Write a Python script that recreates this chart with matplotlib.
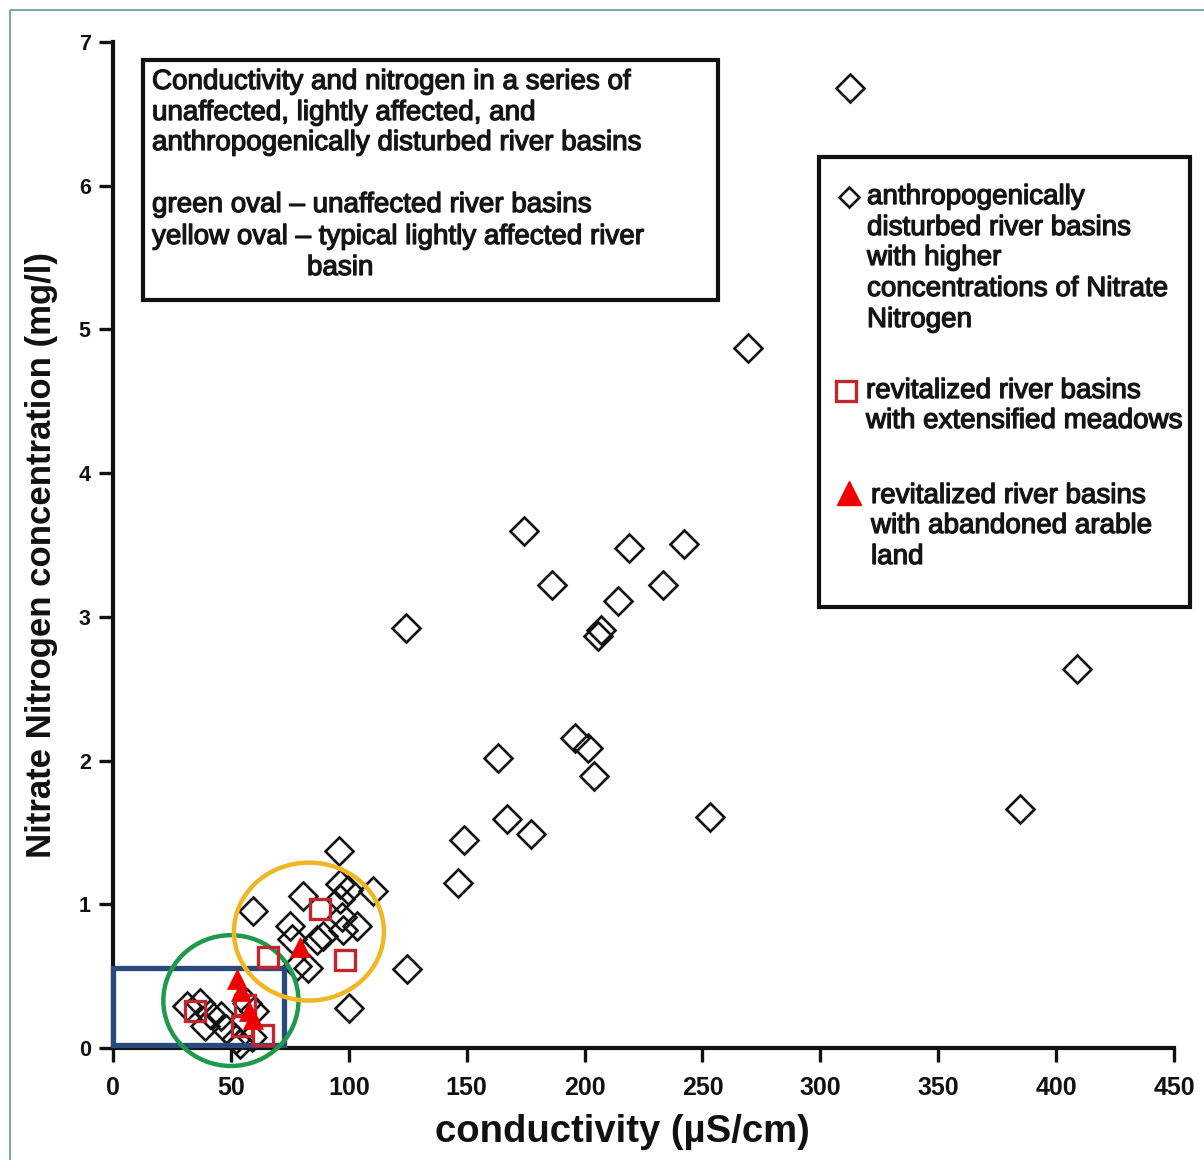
import matplotlib
matplotlib.use("Agg")
import matplotlib.pyplot as plt
import matplotlib.patheffects as pe
from matplotlib.patches import Ellipse, Rectangle
from matplotlib.lines import Line2D

plt.rcParams['font.family'] = ['Liberation Sans', 'DejaVu Sans']

# Anthropogenically disturbed river basins (open diamonds)
disturbed_cond = [312.6, 269.3, 174.3, 218.8, 242.2, 186.2, 233.2, 214.2, 207.0, 205.7,
                  124.3, 408.8, 195.9, 201.4, 163.3, 204.0, 384.6, 253.2, 167.1, 177.3,
                  148.9, 95.8, 146.3, 110.3, 124.7, 100.1,
                  59.4, 80.6, 96.3, 99.7, 96.3, 97.0, 103.5, 97.5, 75.0, 89.0,
                  86.5, 76.0, 78.0, 82.7,
                  31.4, 37.0, 41.0, 46.0, 39.0, 48.0, 52.0, 60.0, 59.0, 57.0, 54.0]
disturbed_no3 = [6.68, 4.87, 3.60, 3.48, 3.51, 3.22, 3.22, 3.11, 2.91, 2.87,
                 2.92, 2.64, 2.16, 2.09, 2.02, 1.89, 1.66, 1.61, 1.59, 1.49,
                 1.45, 1.37, 1.15, 1.09, 0.55, 0.28,
                 0.95, 1.06, 1.14, 1.10, 1.04, 0.91, 0.85, 0.82, 0.85, 0.78,
                 0.75, 0.76, 0.57, 0.56,
                 0.29, 0.31, 0.24, 0.22, 0.15, 0.13, 0.06, 0.26, 0.08, 0.31, 0.03]

# Revitalized basins with extensified meadows (red squares)
meadow_cond = [87.8, 98.4, 65.7, 34.8, 56.0, 54.7, 63.6]
meadow_no3 = [0.97, 0.61, 0.63, 0.26, 0.30, 0.15, 0.09]

# Revitalized basins with abandoned arable land (red triangles)
arable_cond = [79.3, 52.5, 54.5, 57.5, 59.5]
arable_no3 = [0.70, 0.48, 0.40, 0.26, 0.20]

x_ticks = [0, 50, 100, 150, 200, 250, 300, 350, 400, 450]
y_ticks = [0, 1, 2, 3, 4, 5, 6, 7]

fig = plt.figure(figsize=(12.04, 11.6), dpi=100)
ax = fig.add_axes([113 / 1204, 1 - 1048 / 1160, (1174 - 113) / 1204, (1048 - 42) / 1160])

ax.plot(disturbed_cond, disturbed_no3, linestyle='none', marker='D', markersize=14.5,
        markerfacecolor='none', markeredgecolor='#111111', markeredgewidth=1.9,
        clip_on=False, zorder=3)

# Highlighted groups
ax.add_patch(Rectangle((0, 0.02), 72.5, 0.54, fill=False, edgecolor='#294a7a',
                       linewidth=3.8, zorder=4, clip_on=False))
ax.add_patch(Ellipse((50, 0.33), 57.3, 0.91, fill=False, edgecolor='#1f9a4c',
                     linewidth=3.2, zorder=4, clip_on=False))
ax.add_patch(Ellipse((83.1, 0.81), 63.6, 0.96, fill=False, edgecolor='#f0b623',
                     linewidth=3.2, zorder=4, clip_on=False))

ax.plot(meadow_cond, meadow_no3, linestyle='none', marker='s', markersize=14,
        markerfacecolor='none', markeredgecolor='#c0262c', markeredgewidth=2.4,
        clip_on=False, zorder=5)
ax.plot(arable_cond, arable_no3, linestyle='none', marker='^', markersize=15,
        markerfacecolor='#ee0000', markeredgecolor='#ee0000', markeredgewidth=0.5,
        clip_on=False, zorder=6)

ax.set_xlim(0, 450)
ax.set_ylim(0, 7)
ax.set_xticks(x_ticks)
ax.set_yticks(y_ticks)
ax.set_xticklabels([str(v) for v in x_ticks], fontsize=18, fontweight='bold')
ax.set_yticklabels([str(v) for v in y_ticks], fontsize=15.5, fontweight='bold')
ax.tick_params(axis='x', direction='out', length=10, width=2.4, pad=10, colors='#111111')
ax.tick_params(axis='y', direction='out', length=10, width=2.4, pad=6, colors='#111111')
for side in ('top', 'right'):
    ax.spines[side].set_visible(False)
for side in ('left', 'bottom'):
    ax.spines[side].set_linewidth(3)
    ax.spines[side].set_color('#111111')

ax.set_xlabel('conductivity (µS/cm)', fontsize=27.5, fontweight='bold', color='#111111')
ax.set_ylabel('Nitrate Nitrogen concentration (mg/l)', fontsize=25, fontweight='bold',
              color='#111111')
ax.xaxis.set_label_coords((622 - 113) / 1061, (1048 - 1132) / 1006)
ax.yaxis.set_label_coords((42 - 113) / 1061, (1048 - 555) / 1006)
ax.xaxis.label.set_verticalalignment('center')
ax.yaxis.label.set_verticalalignment('center')
ax.yaxis.label.set_rotation_mode('default')

# Overlay in pixel units for the annotation boxes
ov = fig.add_axes([0, 0, 1, 1], zorder=10)
ov.set_xlim(0, 1204)
ov.set_ylim(1160, 0)
ov.set_facecolor('none')
ov.axis('off')

# Frame lines at the top and left edges of the figure
ov.add_line(Line2D([10, 10, 1204], [1160, 10, 10], color='#7fa9aa', linewidth=1.5))

heavy = [pe.withStroke(linewidth=0.9, foreground='#151515')]
txt_kw = dict(fontsize=20, color='#151515', va='center', ha='left', path_effects=heavy)

ov.add_patch(Rectangle((143, 60), 575, 240, fill=True, facecolor='white',
                       edgecolor='#111111', linewidth=3))
left_lines = [
    (152, 82, 'Conductivity and nitrogen in a series of'),
    (152, 113, 'unaffected, lightly affected, and'),
    (152, 143, 'anthropogenically disturbed river basins'),
    (152, 205, 'green oval \u2013 unaffected river basins'),
    (152, 237, 'yellow oval \u2013 typical lightly affected river'),
    (307, 268, 'basin'),
]
for x, y, s in left_lines:
    ov.text(x, y, s, **txt_kw)

ov.add_patch(Rectangle((819, 157), 371, 450, fill=True, facecolor='white',
                       edgecolor='#111111', linewidth=3))
ov.plot([849], [197], linestyle='none', marker='D', markersize=10,
        markerfacecolor='none', markeredgecolor='#111111', markeredgewidth=1.9)
ov.plot([846], [391], linestyle='none', marker='s', markersize=14,
        markerfacecolor='white', markeredgecolor='#c0262c', markeredgewidth=2.4)
ov.plot([849], [493], linestyle='none', marker='^', markersize=17,
        markerfacecolor='#ee0000', markeredgecolor='#ee0000')
right_lines = [
    (867, 197, 'anthropogenically'),
    (867, 228, 'disturbed river basins'),
    (867, 258, 'with higher'),
    (867, 289, 'concentrations of Nitrate'),
    (867, 320, 'Nitrogen'),
    (866, 391, 'revitalized river basins'),
    (866, 421, 'with extensified meadows'),
    (871, 496, 'revitalized river basins'),
    (871, 526, 'with abandoned arable'),
    (871, 557, 'land'),
]
for x, y, s in right_lines:
    ov.text(x, y, s, **txt_kw)

fig.savefig('out.png', dpi=100, facecolor='white')
